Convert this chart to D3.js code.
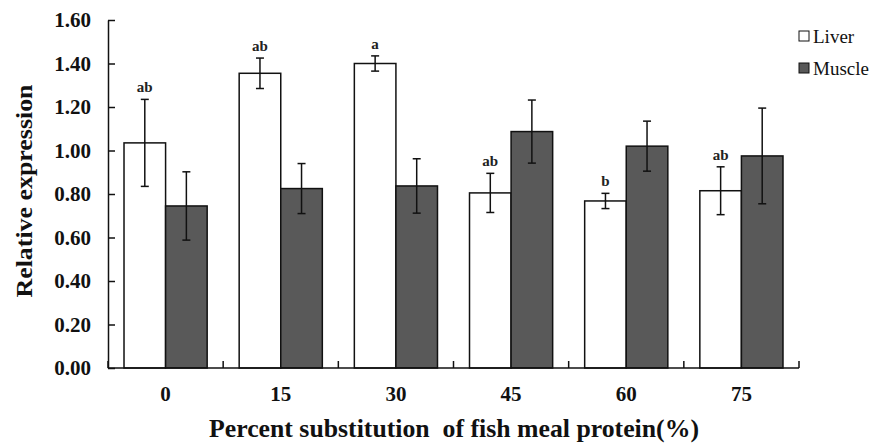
<!DOCTYPE html>
<html><head><meta charset="utf-8">
<script src="https://cdn.jsdelivr.net/npm/d3@7"></script>
<style>
body{margin:0;background:#fff;}
</style></head>
<body><svg id="c" width="875" height="444"></svg>
<script>
const categories = ["0","15","30","45","60","75"];
const series = ["Liver","Muscle"];
const liverValues = [1.035, 1.355, 1.40, 0.805, 0.768, 0.815];
const liverErrors = [0.20, 0.07, 0.035, 0.09, 0.035, 0.11];
const muscleValues = [0.745, 0.825, 0.837, 1.087, 1.02, 0.975];
const muscleErrors = [0.157, 0.115, 0.125, 0.145, 0.115, 0.22];
const liverLetters = ["ab","ab","a","ab","b","ab"];
const yTicks = [0,0.2,0.4,0.6,0.8,1.0,1.2,1.4,1.6];

const FONT = "'Liberation Serif', 'DejaVu Serif', serif";
const colors = {Liver:"#ffffff", Muscle:"#595959"};
const svg = d3.select("#c");
const mLeft=108, mRight=799, mTop=20, mBottom=368;

const x = d3.scaleBand().domain(categories).range([mLeft,mRight]).paddingInner(0.278).paddingOuter(0.139);
const xs = d3.scaleBand().domain(series).range([0,x.bandwidth()]);
const y = d3.scaleLinear().domain([0,1.6]).range([mBottom,mTop]);

const rows = categories.map((c,i)=>({cat:c, vals:[
  {s:"Liver", v:liverValues[i], e:liverErrors[i], lab:liverLetters[i]},
  {s:"Muscle", v:muscleValues[i], e:muscleErrors[i], lab:""}
]}));

const g = svg.append("g");
const grp = g.selectAll("g.cat").data(rows).join("g").attr("transform",d=>`translate(${x(d.cat)},0)`);
const items = grp.selectAll("g.it").data(d=>d.vals).join("g");
items.append("rect")
  .attr("x",d=>xs(d.s)).attr("width",xs.bandwidth())
  .attr("y",d=>y(d.v)).attr("height",d=>y(0)-y(d.v))
  .attr("fill",d=>colors[d.s]).attr("stroke","#111").attr("stroke-width",1.5);
items.append("line")
  .attr("x1",d=>xs(d.s)+xs.bandwidth()/2).attr("x2",d=>xs(d.s)+xs.bandwidth()/2)
  .attr("y1",d=>y(d.v+d.e)).attr("y2",d=>y(d.v-d.e)).attr("stroke","#111").attr("stroke-width",1.5);
[1,-1].forEach(sg=>{
  items.append("line")
    .attr("x1",d=>xs(d.s)+xs.bandwidth()/2-4).attr("x2",d=>xs(d.s)+xs.bandwidth()/2+4)
    .attr("y1",d=>y(d.v+sg*d.e)).attr("y2",d=>y(d.v+sg*d.e)).attr("stroke","#111").attr("stroke-width",1.5);
});
items.filter(d=>d.lab).append("text")
  .attr("x",d=>xs(d.s)+xs.bandwidth()/2).attr("y",d=>y(d.v+d.e)-7)
  .attr("text-anchor","middle").attr("font-family",FONT).attr("font-weight","bold").attr("font-size",15)
  .attr("fill","#222").text(d=>d.lab);

// Y axis
const yAxis = d3.axisLeft(y).tickValues(yTicks).tickFormat(d3.format(".2f")).tickSizeInner(-7).tickSizeOuter(0).tickPadding(17);
const ya = svg.append("g").attr("transform",`translate(${mLeft},0)`).call(yAxis);
ya.attr("font-family",FONT);
ya.select(".domain").attr("stroke","#111").attr("stroke-width",1.5);
ya.selectAll(".tick line").attr("stroke","#111").attr("stroke-width",1.5);
ya.selectAll("text").attr("font-family",FONT).attr("font-weight","bold").attr("font-size",21).attr("fill","#111");

// X axis
svg.append("line").attr("x1",mLeft).attr("x2",mRight).attr("y1",mBottom).attr("y2",mBottom).attr("stroke","#111").attr("stroke-width",1.5);
const bounds = categories.map(c=>x(c)-x.step()*x.paddingInner()/2).concat([mRight]);
svg.selectAll("line.xt").data(bounds).join("line").attr("class","xt")
  .attr("x1",d=>d).attr("x2",d=>d).attr("y1",mBottom).attr("y2",mBottom-7).attr("stroke","#111").attr("stroke-width",1.5);
svg.selectAll("text.xl").data(categories).join("text").attr("class","xl")
  .attr("x",d=>x(d)+x.bandwidth()/2).attr("y",401)
  .attr("text-anchor","middle").attr("font-family",FONT).attr("font-weight","bold").attr("font-size",21).attr("fill","#111").text(d=>d);

// titles
svg.append("text").attr("x",454).attr("y",437).attr("text-anchor","middle")
  .attr("font-family",FONT).attr("font-weight","bold").attr("font-size",25).attr("fill","#111")
  .attr("textLength",490).attr("lengthAdjust","spacingAndGlyphs")
  .style("white-space","pre").text("Percent substitution  of fish meal protein(%)");
svg.append("text").attr("transform","translate(32,191) rotate(-90)").attr("text-anchor","middle")
  .attr("font-family",FONT).attr("font-weight","bold").attr("font-size",24).attr("fill","#111")
  .attr("textLength",213).attr("lengthAdjust","spacingAndGlyphs")
  .text("Relative expression");

// legend
const lg = svg.selectAll("g.lg").data(series).join("g").attr("transform",(d,i)=>`translate(799,${31+i*32})`);
lg.append("rect").attr("width",10).attr("height",10).attr("fill",d=>colors[d]).attr("stroke","#111").attr("stroke-width",1);
lg.append("text").attr("x",14).attr("y",12).attr("font-family",FONT).attr("font-size",19).attr("fill","#111").text(d=>d);
</script></body></html>
